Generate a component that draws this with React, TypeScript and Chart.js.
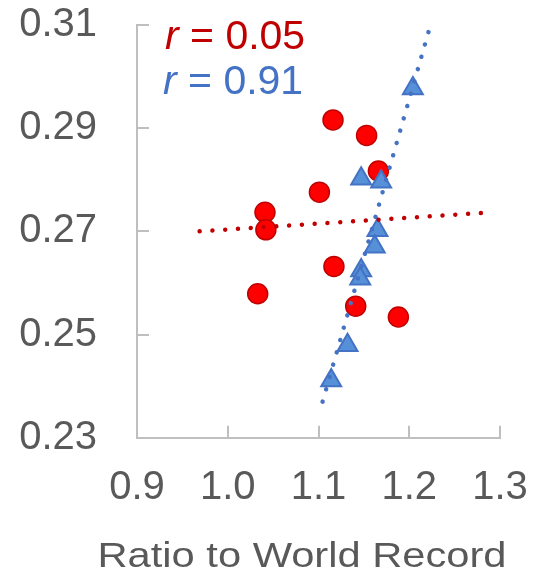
import React, { useEffect, useRef } from 'react';
import { Chart, registerables } from 'chart.js';

Chart.register(...registerables);

// Data
const redX = [1.116, 1.153, 1.166, 1.101, 1.041, 1.042, 1.117, 1.033, 1.141, 1.188];
const redY = [0.2916, 0.2886, 0.2817, 0.2776, 0.2737, 0.2703, 0.2632, 0.2579, 0.2555, 0.2534];
const blueX = [1.204, 1.147, 1.169, 1.165, 1.162, 1.147, 1.146, 1.132, 1.114];
const blueY = [0.2977, 0.2802, 0.2796, 0.2702, 0.267, 0.2624, 0.2608, 0.2479, 0.2411];
const redTrendX = [0.969, 1.283];
const redTrendY = [0.27, 0.2736];
const blueTrendX = [1.1045, 1.2216];
const blueTrendY = [0.237, 0.3089];
const xTicks = [0.9, 1.0, 1.1, 1.2, 1.3];
const yTicks = [0.23, 0.25, 0.27, 0.29, 0.31];
const redR = '0.05';
const blueR = '0.91';
const xTitle = 'Ratio to World Record';

const FONT = '"Liberation Sans", Arial, sans-serif';
const TEXT = '#595959';
const AXIS = '#BFBFBF';
const RED = '#FF0000';
const DARKRED = '#C00000';
const BLUE = '#4472C4';
const BLUEFILL = '#5590D8';

const zip = (xs: number[], ys: number[]) => xs.map((x, i) => ({ x, y: ys[i] }));

const textPlugin = {
  id: 'textPlugin',
  afterDraw(chart: any) {
    const ctx = chart.ctx as CanvasRenderingContext2D;
    const ca = chart.chartArea;
    ctx.save();
    const drawR = (label: string, color: string, x: number, y: number) => {
      ctx.fillStyle = color;
      ctx.textAlign = 'left';
      ctx.textBaseline = 'alphabetic';
      ctx.font = `italic 41px ${FONT}`;
      ctx.fillText('r', x, y);
      const w = ctx.measureText('r').width;
      ctx.font = `41px ${FONT}`;
      ctx.fillText(' = ' + label, x + w, y);
    };
    drawR(redR, DARKRED, ca.left + 28, ca.top + 24);
    drawR(blueR, BLUE, ca.left + 26, ca.top + 69);

    // axis title
    ctx.fillStyle = TEXT;
    ctx.font = `35px ${FONT}`;
    ctx.textAlign = 'center';
    ctx.textBaseline = 'alphabetic';
    ctx.translate(ca.left + 165, chart.height - 10);
    ctx.scale(1.19, 1);
    ctx.fillText(xTitle, 0, 0);
    ctx.restore();
  },
};

export default function App() {
  const ref = useRef<HTMLCanvasElement | null>(null);

  useEffect(() => {
    if (!ref.current) return;
    const chart = new Chart(ref.current, {
      type: 'scatter',
      data: {
        datasets: [
          {
            label: 'red trend',
            data: zip(redTrendX, redTrendY),
            showLine: true,
            borderColor: DARKRED,
            borderWidth: 4.5,
            borderDash: [0.01, 12.8],
            borderCapStyle: 'round',
            pointRadius: 0,
            order: 0,
          },
          {
            label: 'blue trend',
            data: zip(blueTrendX, blueTrendY),
            showLine: true,
            borderColor: BLUE,
            borderWidth: 4.5,
            borderDash: [0.01, 12.8],
            borderCapStyle: 'round',
            pointRadius: 0,
            order: 0,
          },
          {
            label: 'blue',
            data: zip(blueX, blueY),
            pointStyle: 'triangle',
            pointRadius: 11.5,
            backgroundColor: BLUEFILL,
            borderColor: BLUE,
            borderWidth: 2,
            order: 1,
          },
          {
            label: 'red',
            data: zip(redX, redY),
            pointStyle: 'circle',
            pointRadius: 10,
            backgroundColor: RED,
            borderColor: DARKRED,
            borderWidth: 1.5,
            order: 2,
          },
        ],
      } as any,
      options: {
        animation: false,
        responsive: true,
        maintainAspectRatio: false,
        clip: false as any,
        layout: { padding: { top: 25, right: 34, left: 0, bottom: 0 } },
        plugins: {
          legend: { display: false },
          tooltip: { enabled: false },
        },
        scales: {
          x: {
            type: 'linear',
            min: 0.9,
            max: 1.3,
            afterBuildTicks: (s: any) => {
              s.ticks = xTicks.map((v) => ({ value: v }));
            },
            afterFit: (s: any) => {
              s.height = 139.3;
              s.paddingLeft = 0;
              s.paddingRight = 0;
            },
            ticks: {
              font: { family: FONT, size: 40 },
              color: TEXT,
              padding: 38,
              maxRotation: 0,
              autoSkip: false,
              callback: (v: any) => Number(v).toFixed(1),
            },
            grid: {
              drawOnChartArea: false,
              drawTicks: true,
              tickLength: -12,
              color: AXIS,
              lineWidth: 2,
            },
            border: { display: true, color: AXIS, width: 2 },
          },
          y: {
            type: 'linear',
            min: 0.23,
            max: 0.31,
            afterBuildTicks: (s: any) => {
              s.ticks = yTicks.map((v) => ({ value: v }));
            },
            afterFit: (s: any) => {
              s.width = 137;
              s.paddingTop = 0;
              s.paddingBottom = 0;
            },
            ticks: {
              font: { family: FONT, size: 40 },
              color: TEXT,
              padding: 52,
              autoSkip: false,
              callback: (v: any) => Number(v).toFixed(2),
            },
            grid: {
              drawOnChartArea: false,
              drawTicks: true,
              tickLength: -12,
              color: AXIS,
              lineWidth: 2,
            },
            border: { display: true, color: AXIS, width: 2 },
          },
        },
      } as any,
      plugins: [textPlugin],
    });
    return () => chart.destroy();
  }, []);

  return (
    <div style={{ position: 'fixed', left: 0, top: 0, width: 534, height: 577, background: '#fff' }}>
      <canvas ref={ref} />
    </div>
  );
}
